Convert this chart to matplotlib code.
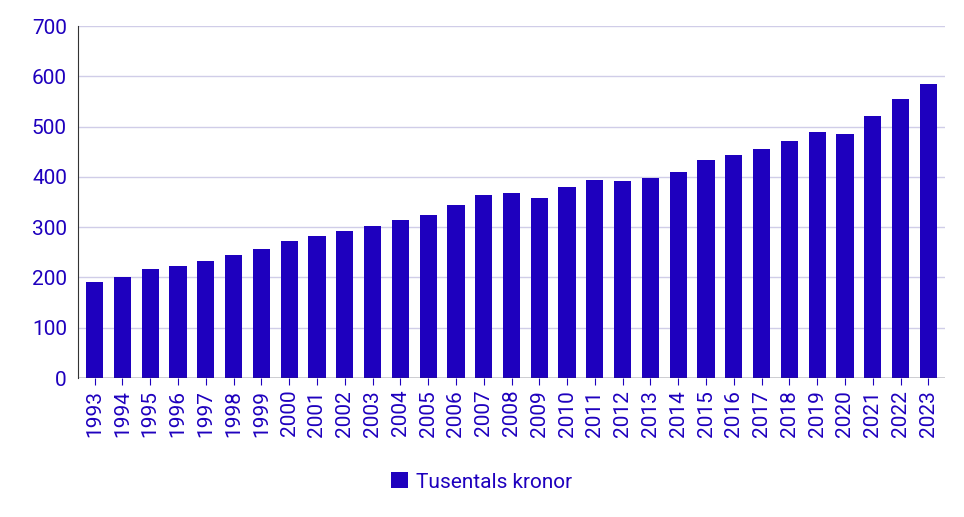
import matplotlib
matplotlib.use("Agg")
import matplotlib.pyplot as plt

years = [str(y) for y in range(1993, 2024)]
values = [191, 201, 217, 223, 233, 245, 256, 272, 282, 292, 302, 314, 324, 344, 364, 368,
          358, 380, 394, 392, 398, 410, 433, 443, 455, 471, 489, 485, 521, 555, 585]
series_name = "Tusentals kronor"

bar_c = "#1e00be"
txt_c = "#1e00be"
plt.rcParams['font.family'] = ['Roboto', 'DejaVu Sans']

fig = plt.figure(figsize=(9.64, 5.17), dpi=100)
ax = fig.add_axes([78/964, 1-378/517, (945-78)/964, (378-26)/517])
x = range(len(years))
ax.bar(x, values, width=0.62, color=bar_c, label=series_name, zorder=3)
ax.set_ylim(0, 700)
ax.set_xlim(-0.6, len(years)-0.4)
ax.set_yticks(range(0, 701, 100))
ax.set_xticks(list(x))
ax.set_xticklabels(years, rotation=90)
ax.tick_params(axis='y', length=0, labelsize=15, colors=txt_c, pad=8)
ax.tick_params(axis='x', length=5, labelsize=15, colors=txt_c, direction='out')
ax.grid(axis='y', color='#d0cde8', linewidth=1, zorder=0)
for s in ['top', 'right', 'bottom']:
    ax.spines[s].set_visible(False)
ax.spines['left'].set_color('#333333')
ax.axhline(0, color='#333333', linewidth=1, zorder=4)
leg = fig.legend(loc='center', bbox_to_anchor=(0.5, 1-482/517), frameon=False,
                 fontsize=15, handlelength=0.8, handleheight=0.8, handletextpad=0.4)
for t in leg.get_texts():
    t.set_color(txt_c)
fig.savefig("out.png", dpi=100)
